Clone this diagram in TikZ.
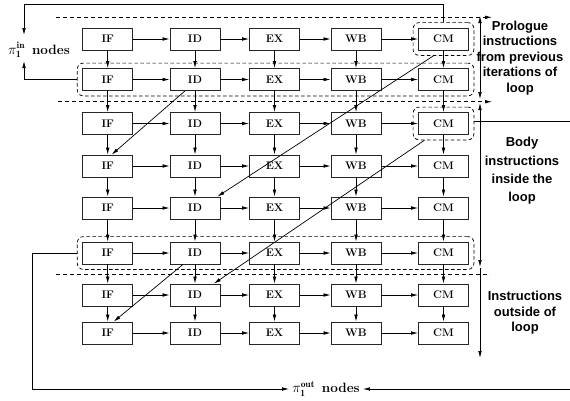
\documentclass[tikz,border=0pt]{standalone}
\usepackage{fontspec}
\newfontfamily\hv{Liberation Sans}
\usetikzlibrary{arrows.meta,fit,calc}
\begin{document}
\begin{tikzpicture}[x=1pt,y=-1pt,
  stage/.style={draw=black!85, line width=0.8pt, minimum width=50pt, minimum height=22pt, inner sep=0pt, font=\fontsize{11}{12}\selectfont\bfseries},
  grp/.style={draw, line width=0.7pt, rounded corners=6pt, inner sep=5pt, dash pattern=on 3.5pt off 2.5pt},
  conn/.style={line width=0.7pt, -{Latex[length=7pt,width=3.6pt]}},
  both/.style={line width=0.7pt, {Latex[length=7pt,width=3.6pt]}-{Latex[length=7pt,width=3.6pt]}},
  plain/.style={line width=0.7pt},
  sepline/.style={line width=0.7pt, dash pattern=on 4pt off 3pt},
  side/.style={font=\hv\bfseries\fontsize{13}{15.5}\selectfont, align=center, inner sep=0pt},
  pilabel/.style={font=\fontsize{13.5}{15}\selectfont\bfseries, inner sep=3pt}
]
\useasboundingbox (0,0) rectangle (570,400);

% stages
\foreach \r/\y in {1/39,2/79.5,3/123.5,4/166,5/208,6/253,7/295,8/333}{
  \foreach \c/\x/\t in {1/107.7/IF,2/195/ID,3/274.5/EX,4/356/WB,5/443.5/CM}{
    \node[stage] (n\r\c) at (\x,\y) {\t};
  }
}

% horizontal arrows
\foreach \r in {1,...,8}{
  \foreach \c [evaluate=\c as \d using int(\c+1)] in {1,...,4}{
    \draw[conn] (n\r\c) -- (n\r\d);
  }
}
% vertical arrows
\foreach \r [evaluate=\r as \s using int(\r+1)] in {1,...,7}{
  \foreach \c in {1,...,5}{
    \draw[conn] (n\r\c) -- (n\s\c);
  }
}

% dashed groups
\node[grp, fit=(n15)] (g1) {};
\node[grp, fit=(n21)(n25)] (g2) {};
\node[grp, fit=(n35)] (g3) {};
\node[grp, fit=(n61)(n65)] (g6) {};

% diagonal arrows
\draw[conn] ([xshift=-10pt]g1.south) -- ([xshift=-3pt]n52.north east);
\draw[conn] ([xshift=-19pt]g3.south) -- ([xshift=-6.5pt]n72.north east);
\draw[conn] ([xshift=-10pt]n22.south) -- ([xshift=4pt]n41.north);
\draw[conn] ([xshift=-12pt]n62.south) -- ([xshift=6pt]n81.north);

% separators
\coordinate (s1a) at (56,17.3);  \coordinate (s1b) at (492,17.3);
\coordinate (s2a) at (58,101.7); \coordinate (s2b) at (492,101.7);
\coordinate (s3a) at (56,274);   \coordinate (s3b) at (490,274);
\draw[sepline, -{Latex[length=7pt,width=3.6pt]}] (s1a) -- (s1b);
\draw[sepline, -{Latex[length=7pt,width=3.6pt]}] (s2a) -- (s2b);
\draw[sepline] (s3a) -- (s3b);

% side range arrows
\coordinate (pa) at (480,16);  \coordinate (pb) at (480,99);
\coordinate (ba) at (480,103); \coordinate (bb) at (480,267);
\coordinate (oa) at (480,268); \coordinate (ob) at (480,358);
\draw[both] (pa) -- (pb);
\draw[both] (ba) -- (bb);
\draw[conn] (oa) -- (ob);

% side labels
\node[side] (pro) at (520,58) {Prologue\\instructions\\from previous\\iterations of\\loop};
\node[side, font=\hv\bfseries\fontsize{13}{18.3}\selectfont] (body) at (522,171) {Body\\instructions\\inside the\\loop};
\node[side] (outl) at (525,313) {Instructions\\outside of\\loop};

% pi labels
\node[pilabel] (pin) at (39,50) {$\pi_{\mathbf{1}}^{\mathbf{in}}$\hspace{7pt}nodes};
\node[pilabel] (pout) at (326,389) {$\pi_{\mathbf{1}}^{\mathbf{out}}$\hspace{7pt}nodes};

% loop-back connectors
\coordinate (tl) at (24,4);
\coordinate (pinT) at (24,35);
\coordinate (pinB) at (24,61);
\draw[conn] (g1.north) |- (tl) -- (pinT);
\draw[conn] (g2.west) -| (pinB);
\coordinate (rr) at (570,121);
\draw[plain] (g3.east |- rr) -- (rr);
\coordinate (bl) at (32,389);
\coordinate (br) at (570,389);
\draw[conn] (g6.west) -| (bl) -- (pout.west);
\draw[conn] (br) -- (pout.east);
\end{tikzpicture}
\end{document}
